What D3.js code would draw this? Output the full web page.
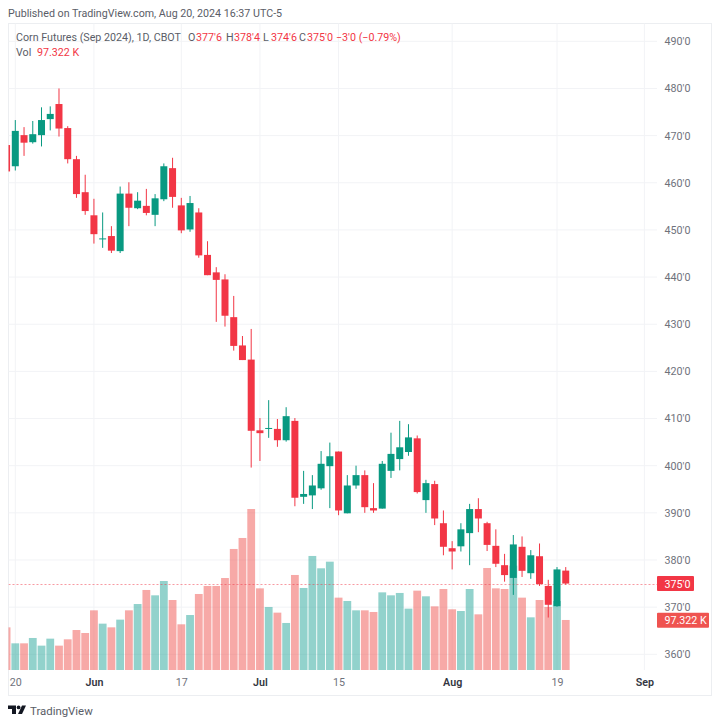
<!DOCTYPE html>
<html>
<head>
<meta charset="utf-8">
<script src="https://d3js.org/d3.v7.min.js"></script>
<style>
  html, body { margin: 0; padding: 0; background: #fff; }
  svg { display: block; }
  text { font-family: Roboto, "Liberation Sans", sans-serif; }
</style>
</head>
<body>
<svg id="chart" width="720" height="726"></svg>
<script>
// daily bars, first one is May 17 and the last one Aug 20 (index = trading day)
const opens = [468.0,463.5,470.1,468.6,470.1,473.5,476.7,471.6,465.0,458.0,453.1,448.0,448.7,445.5,457.7,454.6,455.1,453.2,456.5,463.1,455.2,450.1,453.7,444.7,441.0,439.5,431.5,425.5,422.5,407.5,407.8,407.8,405.4,409.5,393.4,393.7,395.2,399.9,403.0,389.9,395.8,398.0,391.0,390.9,398.9,401.4,402.9,405.8,392.7,396.1,387.8,382.5,382.9,385.7,390.8,387.8,383.0,378.9,376.2,382.8,377.2,380.8,374.5,370.2,377.75];
const highs = [468.0,473.3,471.8,473.1,476.0,476.2,480.0,472.0,465.7,461.7,456.6,453.7,450.8,459.2,460.1,458.0,458.7,457.6,464.1,465.3,456.8,457.2,454.6,447.6,442.1,440.6,436.0,427.5,429.0,410.1,413.9,409.9,412.4,410.1,398.9,398.0,403.1,404.9,403.0,398.0,400.0,399.0,396.3,401.0,407.0,409.5,408.8,406.4,397.0,396.8,390.5,384.0,387.8,391.9,393.1,388.1,386.5,381.3,385.3,385.0,382.1,383.5,375.8,378.5,378.5];
const lows = [462.4,462.6,465.7,468.3,467.7,471.1,469.8,464.1,456.8,453.2,447.1,446.2,445.1,445.1,450.8,454.4,453.1,450.8,456.1,454.7,449.3,449.6,444.1,440.4,430.5,429.5,424.4,422.4,399.6,401.0,405.9,404.0,405.1,391.4,391.9,390.8,394.9,391.0,389.5,389.9,395.1,390.0,390.0,390.9,397.4,399.0,402.1,394.1,390.0,387.4,381.0,378.0,381.8,378.9,385.9,381.9,378.5,375.4,372.6,376.4,376.0,374.5,367.8,370.1,374.75];
const closes = [462.4,471.0,468.5,470.3,473.3,474.6,471.5,465.0,457.6,454.0,449.1,448.2,445.6,457.7,454.7,456.2,453.6,456.7,463.5,457.0,449.9,455.7,444.6,440.4,439.4,431.8,425.4,422.4,407.4,406.9,408.0,405.4,410.5,393.2,394.0,395.8,400.4,402.0,390.5,395.8,398.0,391.2,390.5,400.4,402.5,403.9,406.0,394.4,396.3,388.8,382.8,381.8,386.5,390.8,388.8,383.2,379.2,376.8,383.3,377.7,381.0,374.9,370.5,378.0,375.0];
// volume in thousands
const volumes = [83.0,51.9,51.9,62.3,47.4,61.0,47.4,59.7,77.8,72.0,116.1,90.2,83.0,98.0,116.1,128.4,155.7,145.3,173.2,136.2,88.9,107.0,147.9,163.5,163.5,179.0,235.5,256.9,313.3,158.9,122.6,111.6,91.5,184.9,159.6,221.9,197.9,210.8,140.8,134.3,116.1,116.1,112.9,151.1,145.3,149.9,119.4,154.4,143.4,123.9,157.6,118.1,114.8,157.6,108.3,198.5,158.9,157.6,203.0,140.8,102.5,136.2,122.6,134.3,97.322];

const priceTicks = [360,370,380,390,400,410,420,430,440,450,460,470,480,490];
const timeTickBars = [1,10,20,29,38,51,63,73];
const timeTickLabels = ['20','Jun','17','Jul','15','Aug','19','Sep'];
const monthLabels = ['Jun','Jul','Aug','Sep'];

const lastPrice = 375;
const lastVolume = 97.322;

const upColor = '#089981', downColor = '#f23645';
const upVol = 'rgba(38,166,154,0.5)', downVol = 'rgba(239,83,80,0.5)';
const gridColor = '#f2f3f6', axisText = '#6f727c', labelText = '#5a5d67';
const fontSize = 10.7;

const pane = { left: 8.5, right: 657, top: 23.5, bottom: 670 };

const x = d3.scaleLinear().domain([1, 63]).range([15.3, 557]);
const y = d3.scaleLinear().domain([360, 490]).range([654.3, 41.3]);
const yVol = d3.scaleLinear().domain([0, 313.3]).range([670, 509]);

const svg = d3.select('#chart');
const bars = d3.range(opens.length);
const isUp = i => closes[i] >= opens[i];

svg.append('defs').append('clipPath').attr('id', 'pane')
  .append('rect')
  .attr('x', pane.left).attr('y', pane.top)
  .attr('width', pane.right - pane.left).attr('height', pane.bottom - pane.top);

// outer frame
svg.append('rect')
  .attr('x', 8.5).attr('y', 23.5).attr('width', 703).attr('height', 672)
  .attr('fill', 'none').attr('stroke', '#eceef1');

// grid
svg.append('g').selectAll('line').data(priceTicks).enter().append('line')
  .attr('x1', pane.left).attr('x2', pane.right)
  .attr('y1', d => y(d)).attr('y2', d => y(d))
  .attr('stroke', gridColor);

svg.append('g').selectAll('line').data(timeTickBars).enter().append('line')
  .attr('x1', d => x(d)).attr('x2', d => x(d))
  .attr('y1', pane.top).attr('y2', pane.bottom)
  .attr('stroke', gridColor);

const plot = svg.append('g').attr('clip-path', 'url(#pane)');

// volume under the candles
plot.append('g').selectAll('rect').data(bars).enter().append('rect')
  .attr('x', i => x(i) - 3.9)
  .attr('width', 7.8)
  .attr('y', i => yVol(volumes[i]))
  .attr('height', i => yVol(0) - yVol(volumes[i]))
  .attr('fill', i => isUp(i) ? upVol : downVol);

// last price line
plot.append('line')
  .attr('x1', pane.left).attr('x2', pane.right)
  .attr('y1', Math.round(y(lastPrice)) + 0.5).attr('y2', Math.round(y(lastPrice)) + 0.5)
  .attr('stroke', downColor).attr('stroke-opacity', 0.5)
  .attr('stroke-dasharray', '2 2');

// wicks
plot.append('g').selectAll('line').data(bars).enter().append('line')
  .attr('x1', i => x(i)).attr('x2', i => x(i))
  .attr('y1', i => y(highs[i])).attr('y2', i => y(lows[i]))
  .attr('stroke', i => isUp(i) ? upColor : downColor)
  .attr('stroke-width', 1);

// bodies
plot.append('g').selectAll('rect').data(bars).enter().append('rect')
  .attr('x', i => x(i) - 3.5)
  .attr('width', 7)
  .attr('y', i => y(Math.max(opens[i], closes[i])))
  .attr('height', i => Math.max(1, Math.abs(y(opens[i]) - y(closes[i]))))
  .attr('fill', i => isUp(i) ? upColor : downColor);

// price axis
const yAxis = d3.axisRight(y)
  .tickValues(priceTicks)
  .tickSize(0)
  .tickPadding(0)
  .tickFormat(d => d + "'0");

svg.append('g')
  .attr('transform', 'translate(664.5,0)')
  .call(yAxis)
  .call(g => g.select('.domain').remove())
  .selectAll('text')
  .attr('font-size', fontSize)
  .attr('fill', axisText)
  .style('font-family', 'Roboto, sans-serif');

// time axis
const xAxis = d3.axisBottom(x)
  .tickValues(timeTickBars)
  .tickSize(0)
  .tickPadding(0)
  .tickFormat((d, i) => timeTickLabels[i]);

svg.append('g')
  .attr('transform', 'translate(0,678)')
  .call(xAxis)
  .call(g => g.select('.domain').remove())
  .selectAll('text')
  .attr('font-size', fontSize)
  .attr('font-weight', (d, i) => monthLabels.includes(timeTickLabels[i]) ? 600 : 400)
  .attr('fill', (d, i) => monthLabels.includes(timeTickLabels[i]) ? '#33363f' : axisText)
  .style('font-family', 'Roboto, sans-serif');

// value tags on the price axis
svg.append('rect').attr('x', 657).attr('y', y(lastPrice) - 7.5)
  .attr('width', 37).attr('height', 15).attr('rx', 1).attr('fill', downColor);
svg.append('text').attr('x', 664.5).attr('y', y(lastPrice) + 4)
  .attr('font-size', fontSize).attr('fill', '#fff').text(lastPrice + "'0");

svg.append('rect').attr('x', 657).attr('y', 612.7)
  .attr('width', 52).attr('height', 15).attr('rx', 1).attr('fill', '#ef5350');
svg.append('text').attr('x', 664.5).attr('y', 624)
  .attr('font-size', fontSize).attr('fill', '#fff').text(lastVolume + ' K');

// header
svg.append('text').attr('x', 8).attr('y', 17)
  .attr('font-size', fontSize).attr('fill', labelText)
  .text('Published on TradingView.com, Aug 20, 2024 16:37 UTC-5');

svg.append('text').attr('x', 16).attr('y', 41)
  .attr('font-size', fontSize).attr('fill', labelText)
  .text('Corn Futures (Sep 2024), 1D, CBOT');

const ohlc = [['O', "377'6", 188], ['H', "378'4", 226], ['L', "374'6", 263], ['C', "375'0", 299]];
ohlc.forEach(d => {
  svg.append('text').attr('x', d[2]).attr('y', 41)
    .attr('font-size', fontSize).attr('fill', labelText).text(d[0]);
  svg.append('text').attr('x', d[2] + 8).attr('y', 41)
    .attr('font-size', fontSize).attr('fill', downColor).text(d[1]);
});
svg.append('text').attr('x', 336).attr('y', 41)
  .attr('font-size', fontSize).attr('fill', downColor).text("\u22123'0 (\u22120.79%)");

svg.append('text').attr('x', 16).attr('y', 56)
  .attr('font-size', fontSize).attr('fill', labelText).text('Vol');
svg.append('text').attr('x', 37).attr('y', 56)
  .attr('font-size', fontSize).attr('fill', downColor).text(lastVolume + ' K');

// footer logo
const logo = svg.append('g').attr('transform', 'translate(8,705.5)').attr('fill', '#131722');
logo.append('path').attr('d', 'M0 0H8V8.5H4V3.6H0Z');
logo.append('circle').attr('cx', 10.6).attr('cy', 1.9).attr('r', 1.9);
logo.append('path').attr('d', 'M14 0H18L14 8.5H10Z');
svg.append('text').attr('x', 30).attr('y', 715)
  .attr('font-size', 11.4).attr('fill', labelText).text('TradingView');
</script>
</body>
</html>
